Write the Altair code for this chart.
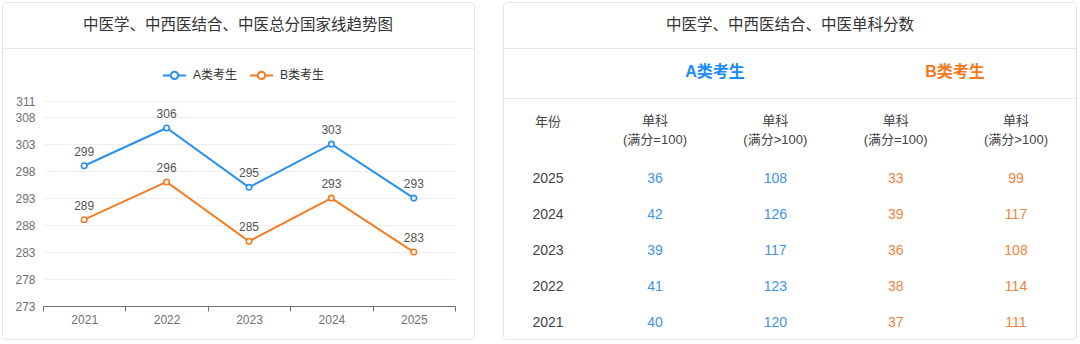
import altair as alt
import pandas as pd

FONT = "'Liberation Sans', 'Noto Sans CJK SC', sans-serif"

# ---------------- data ----------------
years = ["2021", "2022", "2023", "2024", "2025"]
a_total = [299, 306, 295, 303, 293]
b_total = [289, 296, 285, 293, 283]
series_names = ["A类考生", "B类考生"]
y_ticks = [273, 278, 283, 288, 293, 298, 303, 308, 311]

table_years = ["2025", "2024", "2023", "2022", "2021"]
a_single_100 = [36, 42, 39, 41, 40]
a_single_over = [108, 126, 117, 123, 120]
b_single_100 = [33, 39, 36, 38, 37]
b_single_over = [99, 117, 108, 114, 111]
score_cols = ["a100", "aover", "b100", "bover"]
score_headers = ["单科\n(满分=100)", "单科\n(满分>100)", "单科\n(满分=100)", "单科\n(满分>100)"]
year_header = "年份"

title_left = "中医学、中西医结合、中医总分国家线趋势图"
title_right = "中医学、中西医结合、中医单科分数"

BLUE = "#2a90ef"
ORANGE = "#f27c22"
T_BLUE = "#3f93e8"
T_ORANGE = "#f0843c"
CARD = "#e3e3e3"
SEP = "#e9e9e9"

# ---------------- left: trend chart ----------------
line_df = pd.DataFrame(
    [{"year": y, "score": v, "series": series_names[0]} for y, v in zip(years, a_total)]
    + [{"year": y, "score": v, "series": series_names[1]} for y, v in zip(years, b_total)]
)

one = alt.Data(values=[{}])

card_a = alt.Chart(one).mark_rect(fill="transparent", stroke=CARD, strokeWidth=1, cornerRadius=4).encode(
    x=alt.value(-40.5), x2=alt.value(431.5), y=alt.value(-98.5), y2=alt.value(238.5)
)
sep_a = alt.Chart(one).mark_rule(color=SEP, strokeWidth=1).encode(
    x=alt.value(-40.5), x2=alt.value(431.5), y=alt.value(-52.5)
)
title_a = alt.Chart(alt.Data(values=[{"t": title_left}])).mark_text(
    fontSize=15.5, color="#333333", align="center", baseline="middle"
).encode(text="t:N", x=alt.value(195), y=alt.value(-76))

x_enc = alt.X(
    "year:O",
    scale=alt.Scale(type="band", paddingInner=0, paddingOuter=0),
    bandPosition=0.5,
    axis=alt.Axis(
        title=None, labelAngle=0, tickBand="extent", tickSize=5,
        domainColor="#6e7079", tickColor="#6e7079", labelColor="#6e7079",
        labelFontSize=12, grid=False, labelPadding=3,
    ),
)
y_enc = alt.Y(
    "score:Q",
    scale=alt.Scale(domain=[273, 311], nice=False, zero=False),
    axis=alt.Axis(
        title=None, values=y_ticks, ticks=False, domain=False,
        labelColor="#6e7079", labelFontSize=12, labelPadding=8,
        gridColor="#eceef2", labelOverlap=False,
    ),
)

PATH = "M-1,0L-0.32,0M0.32,0L1,0M0.32,0A0.32,0.32,0,1,1,-0.32,0A0.32,0.32,0,1,1,0.32,0"
color_enc = alt.Color(
    "series:N",
    scale=alt.Scale(domain=series_names, range=[BLUE, ORANGE]),
    legend=alt.Legend(
        title=None, orient="none", legendX=119, legendY=-38.5, direction="horizontal",
        symbolType=PATH, symbolSize=529, symbolStrokeWidth=2,
        labelFontSize=12, labelColor="#333333", labelOffset=6, columnPadding=8, padding=0,
    ),
)

lines = alt.Chart(line_df).mark_line(
    strokeWidth=2,
    point=alt.OverlayMarkDef(filled=False, fill="white", size=30, strokeWidth=1.6),
).encode(x=x_enc, y=y_enc, color=color_enc)

labels = alt.Chart(line_df).mark_text(dy=-14, fontSize=12, color="#555555").encode(
    x=x_enc, y=y_enc, text="score:Q"
)

left = alt.layer(card_a, sep_a, title_a, lines, labels).properties(width=412, height=205)

# ---------------- right: table ----------------
# the right panel's plot origin is aligned with the left plot's top (99px below card top)
OFF = -99
score_rows = []
for col, grp, vals in [
    ("a100", "A", a_single_100),
    ("aover", "A", a_single_over),
    ("b100", "B", b_single_100),
    ("bover", "B", b_single_over),
]:
    for y, v in zip(table_years, vals):
        score_rows.append({"year": y, "col": col, "value": v, "grp": grp})
score_df = pd.DataFrame(score_rows)
year_df = pd.DataFrame({"year": table_years})
header_df = pd.DataFrame({"col": score_cols, "label": score_headers})

col_x = alt.X("col:N", scale=alt.Scale(type="point", domain=score_cols, range=[152, 513], padding=0), axis=None)
row_y = alt.Y("year:N", scale=alt.Scale(type="point", domain=table_years, range=[177 + OFF, 321 + OFF], padding=0), axis=None)

card_b = alt.Chart(one).mark_rect(fill="transparent", stroke=CARD, strokeWidth=1, cornerRadius=4).encode(
    x=alt.value(0.5), x2=alt.value(573.5), y=alt.value(0.5 + OFF), y2=alt.value(337.5 + OFF)
)
sep_b1 = alt.Chart(one).mark_rule(color=SEP, strokeWidth=1).encode(
    x=alt.value(0.5), x2=alt.value(573.5), y=alt.value(46.5 + OFF)
)
sep_b2 = alt.Chart(one).mark_rule(color=SEP, strokeWidth=1).encode(
    x=alt.value(0.5), x2=alt.value(573.5), y=alt.value(96.5 + OFF)
)
title_b = alt.Chart(alt.Data(values=[{"t": title_right}])).mark_text(
    fontSize=15.5, color="#333333", align="center", baseline="middle"
).encode(text="t:N", x=alt.value(287), y=alt.value(23 + OFF))
grp_a = alt.Chart(alt.Data(values=[{"t": series_names[0]}])).mark_text(
    fontSize=16, fontWeight="bold", color="#1a8cff", align="center", baseline="middle"
).encode(text="t:N", x=alt.value(212), y=alt.value(70 + OFF))
grp_b = alt.Chart(alt.Data(values=[{"t": series_names[1]}])).mark_text(
    fontSize=16, fontWeight="bold", color="#f7781f", align="center", baseline="middle"
).encode(text="t:N", x=alt.value(452), y=alt.value(70 + OFF))
year_head = alt.Chart(alt.Data(values=[{"t": year_header}])).mark_text(
    fontSize=13, color="#444444", align="center", baseline="middle"
).encode(text="t:N", x=alt.value(45), y=alt.value(120 + OFF))
heads = alt.Chart(header_df).mark_text(
    fontSize=13, color="#444444", align="center", baseline="top", lineBreak="\n", lineHeight=19
).encode(text="label:N", x=col_x, y=alt.value(113 + OFF))
year_txt = alt.Chart(year_df).mark_text(
    fontSize=14, color="#444444", align="center", baseline="middle"
).encode(text="year:N", x=alt.value(45), y=row_y)
scores = alt.Chart(score_df).mark_text(fontSize=14, align="center", baseline="middle").encode(
    text="value:Q",
    x=col_x,
    y=row_y,
    color=alt.Color("grp:N", scale=alt.Scale(domain=["A", "B"], range=[T_BLUE, T_ORANGE]), legend=None),
)

right = alt.layer(card_b, sep_b1, sep_b2, title_b, grp_a, grp_b, year_head, heads, year_txt, scores).properties(
    width=574, height=205
)

chart = (
    alt.hconcat(left, right, spacing=28)
    .resolve_scale(color="independent")
    .properties(padding={"left": 2, "top": 2, "right": 0, "bottom": 0}, background="white")
    .configure(font=FONT)
    .configure_view(stroke=None)
)

chart.save("out.html", embed_options={"renderer": "svg", "actions": False})
